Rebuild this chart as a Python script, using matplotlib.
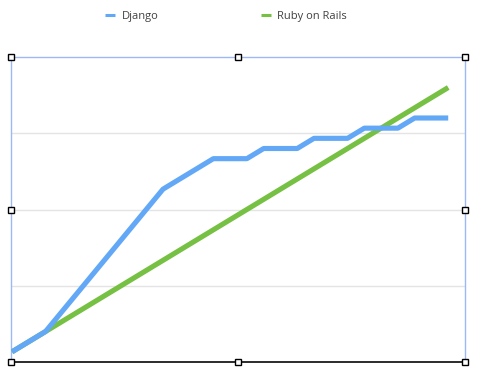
import numpy as np
import matplotlib
matplotlib.use('Agg')
from matplotlib import pyplot as plt

# data (27 categories, y scale 0-120)
django = [4, 8, 12, 20, 28, 36, 44, 52, 60, 68, 72, 76, 80, 80, 80, 84, 84, 84,
          88, 88, 88, 92, 92, 92, 96, 96, 96]
rails = [4, 8, 12, 16, 20, 24, 28, 32, 36, 40, 44, 48, 52, 56, 60, 64, 68, 72,
         76, 80, 84, 88, 92, 96, 100, 104, 108]
x = np.arange(len(django))

plt.rcParams['font.family'] = ['Open Sans', 'DejaVu Sans']

W, H = 487, 382
fig = plt.figure(figsize=(W / 100, H / 100), dpi=100)
ax = fig.add_axes([11 / W, 20 / H, 454 / W, 305 / H])

blue = '#62a8f7'
green = '#76c043'
ax.plot(x, rails, color=green, lw=3.7, solid_capstyle='butt', label='Ruby on Rails', zorder=3)
ax.plot(x, django, color=blue, lw=3.7, solid_capstyle='butt', label='Django', zorder=4)

ax.set_xlim(-0.06, 27.0)
ax.set_ylim(0, 120)
ax.set_yticks([30, 60, 90])
ax.set_xticks([])
ax.yaxis.grid(True, color='#e4e4e4', lw=1)
ax.tick_params(left=False, labelleft=False)
for s in ['top', 'left', 'right']:
    ax.spines[s].set_color('#9db8f5')
    ax.spines[s].set_linewidth(1)
ax.spines['bottom'].set_color('#1a1a1a')
ax.spines['bottom'].set_linewidth(1.3)

# selection handles
hx = [0, 0.5, 1, 0, 1, 0, 0.5, 1]
hy = [1, 1, 1, 0.5, 0.5, 0, 0, 0]
ax.plot(hx, hy, 's', ms=5, mfc='white', mec='black', mew=1,
        transform=ax.transAxes, clip_on=False, zorder=10, ls='none')

h = ax.get_legend_handles_labels()
handles = [h[0][1], h[0][0]]
labels = [h[1][1], h[1][0]]
leg = fig.legend(handles, labels, loc='center', bbox_to_anchor=(226 / W, 1 - 16 / H),
                 ncol=2, frameon=False, fontsize=8, handlelength=0.9, handletextpad=0.6,
                 columnspacing=9.2, labelcolor='#404040')
for ln in leg.get_lines():
    ln.set_linewidth(2.2)

plt.savefig('out.png', dpi=100)
